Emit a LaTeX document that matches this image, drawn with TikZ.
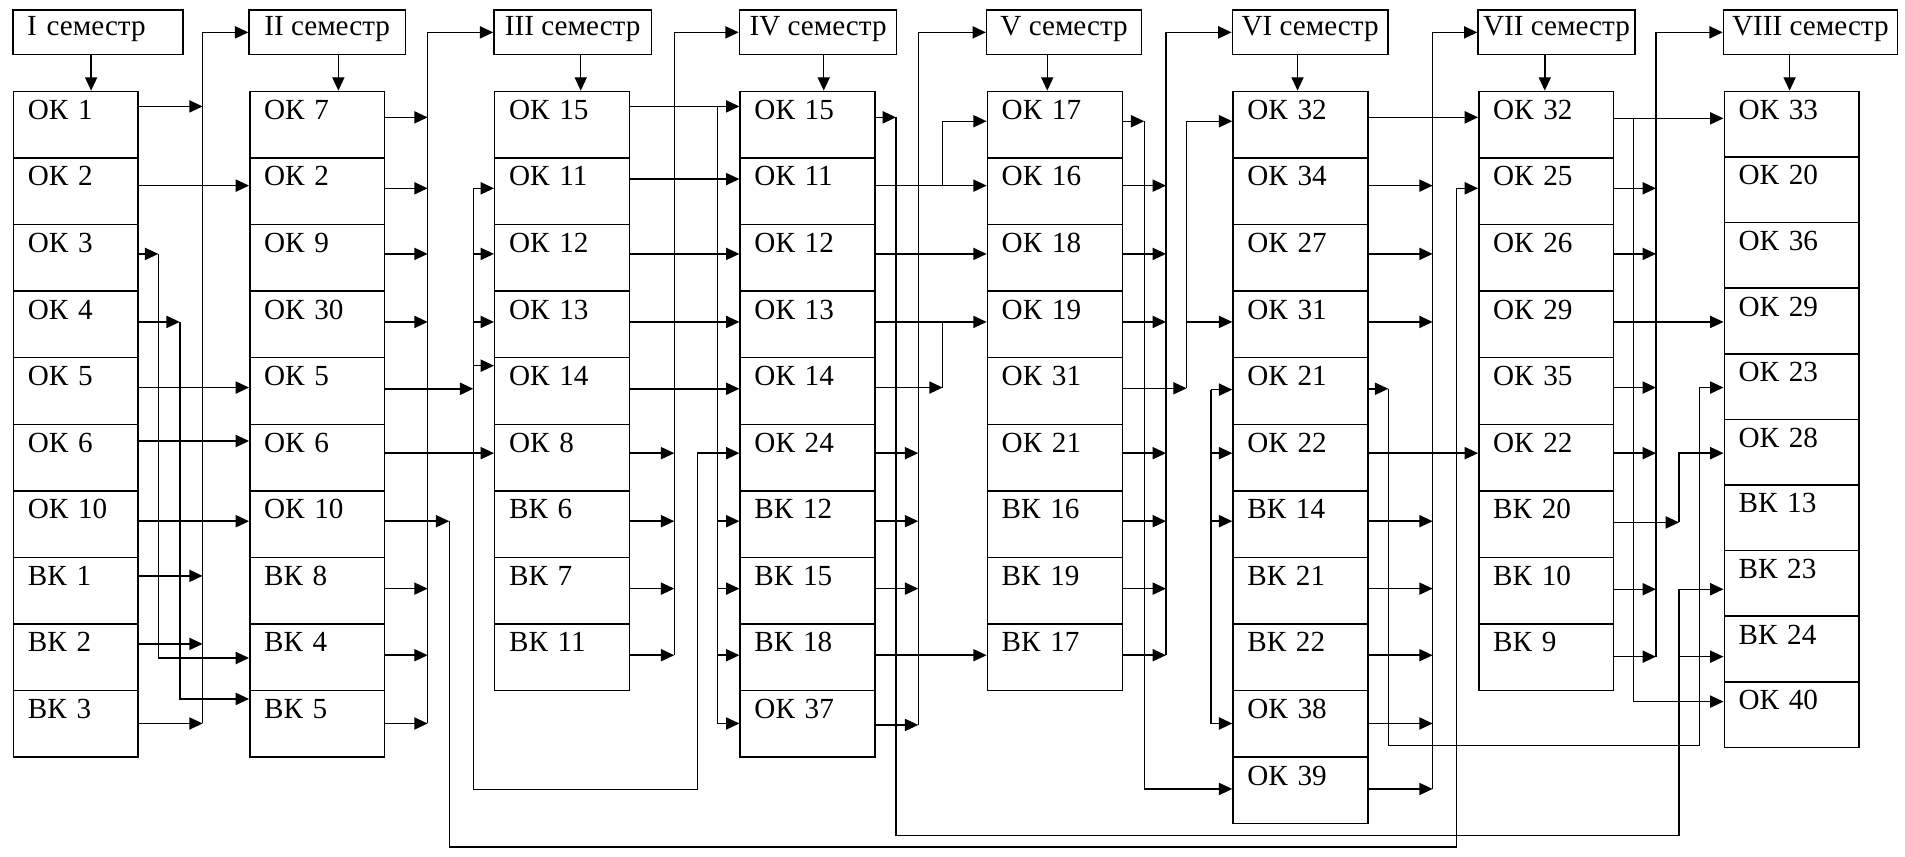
\documentclass[tikz,border=0pt]{standalone}
\usepackage{fontspec}
\setmainfont{Liberation Serif}
\usetikzlibrary{matrix,arrows.meta}

\begin{document}
\begin{tikzpicture}[
  x=0.5pt, y=-0.5pt,
  font=\fontsize{12}{14}\selectfont,
  line width=0.6pt,
  >={Triangle[length=5.5pt,width=5pt]},
  cell/.style={draw, text width=#1, inner xsep=5.9pt, inner ysep=0pt, text height=11.5pt, text depth=15.9pt, align=left},
  cell/.default=43.7pt,
  hdr/.style={draw, anchor=north west, inner xsep=2pt, inner ysep=0pt, text height=10.5pt, text depth=7.85pt},
  stack/.style={matrix of nodes, row sep=-\pgflinewidth, inner sep=0pt, anchor=north west},
  link/.style={->}
]
\useasboundingbox (0,0) rectangle (1568,705);

\node[hdr, text width=58.2pt, inner xsep=5.9pt, align=left] (h1) at (10,7.7) {I семестр};
\node[hdr, minimum width=64.3pt] (h2) at (204.4,7.7) {II семестр};
\node[hdr, minimum width=64.75pt] (h3) at (406,7.7) {III семестр};
\node[hdr, minimum width=64.75pt] (h4) at (608,7.7) {IV семестр};
\node[hdr, minimum width=63.75pt] (h5) at (811.5,7.7) {V семестр};
\node[hdr, minimum width=64pt] (h6) at (1013.7,7.7) {VI семестр};
\node[hdr, minimum width=64.5pt] (h7) at (1216,7.7) {VII семестр};
\node[hdr, minimum width=71.5pt] (h8) at (1418,7.7) {VIII семестр};

\matrix[stack, nodes={cell=39.45pt}] (k1) at (10,74) {
ОК 1 \\ ОК 2 \\ ОК 3 \\ ОК 4 \\ ОК 5 \\ ОК 6 \\ ОК 10 \\ ВК 1 \\ ВК 2 \\ ВК 3 \\
};
\matrix[stack, nodes={cell}] (k2) at (204.4,74) {
ОК 7 \\ ОК 2 \\ ОК 9 \\ ОК 30 \\ ОК 5 \\ ОК 6 \\ ОК 10 \\ ВК 8 \\ ВК 4 \\ ВК 5 \\
};
\matrix[stack, nodes={cell}] (k3) at (406,74) {
ОК 15 \\ ОК 11 \\ ОК 12 \\ ОК 13 \\ ОК 14 \\ ОК 8 \\ ВК 6 \\ ВК 7 \\ ВК 11 \\
};
\matrix[stack, nodes={cell}] (k4) at (608,74) {
ОК 15 \\ ОК 11 \\ ОК 12 \\ ОК 13 \\ ОК 14 \\ ОК 24 \\ ВК 12 \\ ВК 15 \\ ВК 18 \\ ОК 37 \\
};
\matrix[stack, nodes={cell}] (k5) at (811.5,74) {
ОК 17 \\ ОК 16 \\ ОК 18 \\ ОК 19 \\ ОК 31 \\ ОК 21 \\ ВК 16 \\ ВК 19 \\ ВК 17 \\
};
\matrix[stack, nodes={cell}] (k6) at (1013.7,74) {
ОК 32 \\ ОК 34 \\ ОК 27 \\ ОК 31 \\ ОК 21 \\ ОК 22 \\ ВК 14 \\ ВК 21 \\ ВК 22 \\ ОК 38 \\ ОК 39 \\
};
\matrix[stack, nodes={cell}] (k7) at (1216,74) {
ОК 32 \\ ОК 25 \\ ОК 26 \\ ОК 29 \\ ОК 35 \\ ОК 22 \\ ВК 20 \\ ВК 10 \\ ВК 9 \\
};
\matrix[stack, nodes={cell, text depth=15.5pt}] (k8) at (1418,74) {
ОК 33 \\ ОК 20 \\ ОК 36 \\ ОК 29 \\ ОК 23 \\ ОК 28 \\ ВК 13 \\ ВК 23 \\ ВК 24 \\ ОК 40 \\
};

\draw[link] (h1.south -| 75,0) -- (k1-1-1.north -| 75,0);
\draw[link] (h2.south -| 278.5,0) -- (k2-1-1.north -| 278.5,0);
\draw[link] (h3.south -| 478,0) -- (k3-1-1.north -| 478,0);
\draw[link] (h4.south -| 678,0) -- (k4-1-1.north -| 678,0);
\draw[link] (h5.south -| 862,0) -- (k5-1-1.north -| 862,0);
\draw[link] (h6.south -| 1068,0) -- (k6-1-1.north -| 1068,0);
\draw[link] (h7.south -| 1271.5,0) -- (k7-1-1.north -| 1271.5,0);
\draw[link] (h8.south -| 1473,0) -- (k8-1-1.north -| 1473,0);

\draw[link] (166.8,595.5) |- (h2.west);
\draw[link] (k1-1-1.east |- 0,87.6) -- (166.8,87.6);
\draw[link] (k1-8-1.east |- 0,474) -- (166.8,474);
\draw[link] (k1-9-1.east |- 0,530) -- (166.8,530);
\draw[link] (k1-10-1.east |- 0,595.5) -- (166.8,595.5);
\draw[link] (k1-2-1.east |- 0,152.8) -- (k2-2-1.west |- 0,152.8);
\draw[link] (k1-5-1.east |- 0,319) -- (k2-5-1.west |- 0,319);
\draw[link] (k1-6-1.east |- 0,363) -- (k2-6-1.west |- 0,363);
\draw[link] (k1-7-1.east |- 0,429) -- (k2-7-1.west |- 0,429);
\draw[link] (k1-3-1.east |- 0,209) -- (130.3,209);
\draw[link] (130.3,209) |- (k2-9-1.west |- 0,541.6);
\draw[link] (k1-4-1.east |- 0,265) -- (148,265);
\draw[link] (148,265) |- (k2-10-1.west |- 0,575.3);

\draw[link] (352,595.5) |- (h3.west);
\draw[link] (k2-1-1.east |- 0,96.6) -- (352,96.6);
\draw[link] (k2-2-1.east |- 0,155) -- (352,155);
\draw[link] (k2-3-1.east |- 0,209) -- (352,209);
\draw[link] (k2-4-1.east |- 0,265) -- (352,265);
\draw[link] (k2-8-1.east |- 0,484.5) -- (352,484.5);
\draw[link] (k2-9-1.east |- 0,539.3) -- (352,539.3);
\draw[link] (k2-10-1.east |- 0,595.5) -- (352,595.5);
\draw[link] (k2-6-1.east |- 0,373) -- (k3-6-1.west |- 0,373);
\draw[link] (k2-5-1.east |- 0,320) -- (389.6,320);
\draw[link] (389.6,155) -- (k3-2-1.west |- 0,155);
\draw[link] (389.6,209) -- (k3-3-1.west |- 0,209);
\draw[link] (389.6,265) -- (k3-4-1.west |- 0,265);
\draw[link] (389.6,301) -- (k3-5-1.west |- 0,301);
\draw[link] (389.6,155) |- (574,650) |- (k4-6-1.west |- 0,373);
\draw[link] (k2-7-1.east |- 0,429) -- (369.8,429);
\draw[link] (369.8,429) |- (1199,697) |- (k7-2-1.west |- 0,155);

\draw[link] (555,539.3) |- (h4.west);
\draw[link] (k3-6-1.east |- 0,373) -- (555,373);
\draw[link] (k3-7-1.east |- 0,429) -- (555,429);
\draw[link] (k3-8-1.east |- 0,484.5) -- (555,484.5);
\draw[link] (k3-9-1.east |- 0,539.3) -- (555,539.3);
\draw[link] (k3-1-1.east |- 0,87.6) -- (k4-1-1.west |- 0,87.6);
\draw[link] (k3-2-1.east |- 0,147.4) -- (k4-2-1.west |- 0,147.4);
\draw[link] (k3-3-1.east |- 0,209) -- (k4-3-1.west |- 0,209);
\draw[link] (k3-4-1.east |- 0,265) -- (k4-4-1.west |- 0,265);
\draw[link] (k3-5-1.east |- 0,320) -- (k4-5-1.west |- 0,320);
\draw[link] (590.4,429) -- (k4-7-1.west |- 0,429);
\draw[link] (590.4,484.5) -- (k4-8-1.west |- 0,484.5);
\draw[link] (590.4,539.3) -- (k4-9-1.west |- 0,539.3);
\draw[link] (590.4,87.6) |- (k4-10-1.west |- 0,595.5);

\draw[link] (755.8,596.7) |- (h5.west);
\draw[link] (k4-6-1.east |- 0,373) -- (755.8,373);
\draw[link] (k4-7-1.east |- 0,429) -- (755.8,429);
\draw[link] (k4-8-1.east |- 0,484.5) -- (755.8,484.5);
\draw[link] (k4-10-1.east |- 0,596.7) -- (755.8,596.7);
\draw[link] (k4-1-1.east |- 0,96.6) -- (737.5,96.6);
\draw[link] (737.5,96.6) |- (1382,687.5) |- (k8-8-1.west |- 0,485);
\draw[link] (1382,540.5) -- (k8-9-1.west |- 0,540.5);
\draw[link] (k4-2-1.east |- 0,152.8) -- (k5-2-1.west |- 0,152.8);
\draw[link] (775.9,152.8) |- (k5-1-1.west |- 0,99.8);
\draw[link] (k4-3-1.east |- 0,209) -- (k5-3-1.west |- 0,209);
\draw[link] (k4-4-1.east |- 0,265) -- (k5-4-1.west |- 0,265);
\draw[link] (k4-5-1.east |- 0,319) -- (775.9,319);
\draw (775.9,319) -- (775.9,265);
\draw[link] (k4-9-1.east |- 0,539.3) -- (k5-9-1.west |- 0,539.3);

\draw[link] (959.7,539.3) |- (h6.west);
\draw[link] (k5-2-1.east |- 0,152.8) -- (959.7,152.8);
\draw[link] (k5-3-1.east |- 0,209) -- (959.7,209);
\draw[link] (k5-4-1.east |- 0,265) -- (959.7,265);
\draw[link] (k5-6-1.east |- 0,373) -- (959.7,373);
\draw[link] (k5-7-1.east |- 0,429) -- (959.7,429);
\draw[link] (k5-8-1.east |- 0,484.5) -- (959.7,484.5);
\draw[link] (k5-9-1.east |- 0,539.3) -- (959.7,539.3);
\draw[link] (k5-1-1.east |- 0,99.8) -- (941.8,99.8);
\draw[link] (941.8,99.8) |- (k6-11-1.west |- 0,649.4);
\draw[link] (k5-5-1.east |- 0,319.6) -- (976.7,319.6);
\draw[link] (976.7,319.6) |- (k6-1-1.west |- 0,99.8);
\draw[link] (976.7,265) -- (k6-4-1.west |- 0,265);
\coordinate (f1) at (996.7,320.7);
\draw[link] (f1) -- (k6-5-1.west |- f1);
\draw[link] (996.7,373) -- (k6-6-1.west |- 0,373);
\draw[link] (996.7,429) -- (k6-7-1.west |- 0,429);
\draw[link] (f1) |- (k6-10-1.west |- 0,595.5);

\draw[link] (1179.2,649.4) |- (h7.west);
\draw[link] (k6-2-1.east |- 0,152.8) -- (1179.2,152.8);
\draw[link] (k6-3-1.east |- 0,209) -- (1179.2,209);
\draw[link] (k6-4-1.east |- 0,265) -- (1179.2,265);
\draw[link] (k6-7-1.east |- 0,429) -- (1179.2,429);
\draw[link] (k6-8-1.east |- 0,484.5) -- (1179.2,484.5);
\draw[link] (k6-9-1.east |- 0,539.3) -- (1179.2,539.3);
\draw[link] (k6-10-1.east |- 0,595.5) -- (1179.2,595.5);
\draw[link] (k6-11-1.east |- 0,649.4) -- (1179.2,649.4);
\draw[link] (k6-1-1.east |- 0,96.6) -- (k7-1-1.west |- 0,96.6);
\draw[link] (k6-6-1.east |- 0,373) -- (k7-6-1.west |- 0,373);
\draw[link] (k6-5-1.east |- 0,320) -- (1142.7,320);
\draw[link] (1142.7,320) |- (1399,613.5) |- (k8-5-1.west |- 0,319);

\draw[link] (1363,540.5) |- (h8.west);
\draw[link] (k7-2-1.east |- 0,155) -- (1363,155);
\draw[link] (k7-3-1.east |- 0,209) -- (1363,209);
\draw[link] (k7-5-1.east |- 0,319) -- (1363,319);
\draw[link] (k7-6-1.east |- 0,373) -- (1363,373);
\draw[link] (k7-8-1.east |- 0,485) -- (1363,485);
\draw[link] (k7-9-1.east |- 0,540.5) -- (1363,540.5);
\draw[link] (k7-1-1.east |- 0,97.4) -- (k8-1-1.west |- 0,97.4);
\draw[link] (1344.3,97.4) |- (k8-10-1.west |- 0,577.5);
\draw[link] (k7-4-1.east |- 0,265) -- (k8-4-1.west |- 0,265);
\draw[link] (k7-7-1.east |- 0,430) -- (1382,430);
\draw[link] (1382,430) |- (k8-6-1.west |- 0,373);

\end{tikzpicture}
\end{document}
